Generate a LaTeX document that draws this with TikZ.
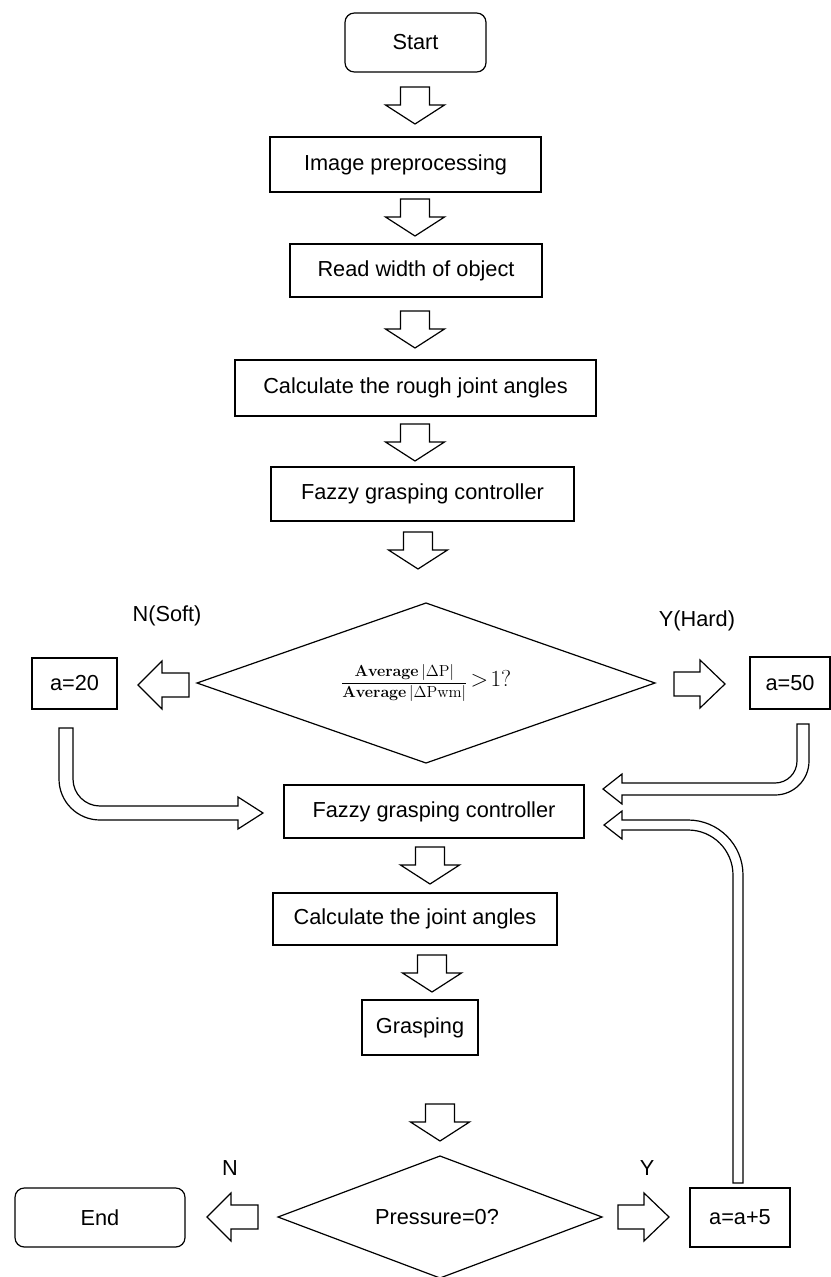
\documentclass[tikz,border=0pt]{standalone}
\usepackage{amsmath}
\usepackage[no-math]{fontspec}
\setmainfont{Liberation Sans}
\usetikzlibrary{calc}
\newcommand\blockdown[2]{\draw[blk] (#1-14.5,#2) -- (#1+14.5,#2) -- (#1+14.5,#2+18) -- (#1+29.5,#2+18) -- (#1,#2+37) -- (#1-29.5,#2+18) -- (#1-14.5,#2+18) -- cycle;}
\newcommand\blockleft[2]{\draw[blk] (#1,#2) -- (#1+24,#2-24) -- (#1+24,#2-12) -- (#1+51,#2-12) -- (#1+51,#2+12) -- (#1+24,#2+12) -- (#1+24,#2+24) -- cycle;}
\newcommand\blockright[2]{\draw[blk] (#1,#2-12) -- (#1+26,#2-12) -- (#1+26,#2-24) -- (#1+51,#2) -- (#1+26,#2+24) -- (#1+26,#2+12) -- (#1,#2+12) -- cycle;}
\begin{document}
\begin{tikzpicture}[x=0.75pt,y=-0.75pt,line width=0.9pt,
  box/.style={draw, inner sep=0pt, font=\fontsize{16.3}{19}\selectfont},
  term/.style={box, rounded corners=7pt},
  lbl/.style={font=\fontsize{16.3}{19}\selectfont, inner sep=0pt},
  blk/.style={draw, line width=0.9pt, line join=miter}]
\useasboundingbox (0,0) rectangle (831,1277);

% nodes
\node[term, minimum width={141*0.75pt}, minimum height={59*0.75pt}] (start) at (415.5,42.5) {Start};
\node[box, minimum width={271*0.75pt}, minimum height={55*0.75pt}] (img) at (405.5,164.5) {Image preprocessing};
\node[box, minimum width={252*0.75pt}, minimum height={53*0.75pt}] (read) at (416,270.5) {Read width of object};
\node[box, minimum width={361*0.75pt}, minimum height={56*0.75pt}] (rough) at (415.5,388) {Calculate the rough joint angles};
\node[box, minimum width={303*0.75pt}, minimum height={54*0.75pt}] (fz1) at (422.5,494) {Fazzy grasping controller};

\draw (197,683) coordinate (d1w) -- (426,603) coordinate (d1n) -- (655,683) coordinate (d1e) -- (426,763) coordinate (d1s) -- cycle;
\node[inner sep=0pt] (d1) at (426,683) {\fontsize{12.8}{15}\selectfont$\dfrac{\mathbf{Average}\,|\Delta\mathrm{P}|}{\mathbf{Average}\,|\Delta\mathrm{Pwm}|}$\,{\fontsize{17}{19}\selectfont$>\!1?$}};

\node[box, minimum width={85*0.75pt}, minimum height={51*0.75pt}] (a20) at (74.5,683.5) {a=20};
\node[box, minimum width={80*0.75pt}, minimum height={52*0.75pt}] (a50) at (790,683) {a=50};
\node[lbl] (nsoft) at (167,616) {N(Soft)};
\node[lbl] (yhard) at (697,621) {Y(Hard)};

\node[box, minimum width={300*0.75pt}, minimum height={53*0.75pt}] (fz2) at (434,811.5) {Fazzy grasping controller};
\node[box, minimum width={284*0.75pt}, minimum height={52*0.75pt}] (joint) at (415,919) {Calculate the joint angles};
\node[box, minimum width={116*0.75pt}, minimum height={55*0.75pt}] (grasp) at (420,1027.5) {Grasping};

\draw (278,1217) coordinate (d2w) -- (440,1156) coordinate (d2n) -- (602,1217) coordinate (d2e) -- (440,1278) coordinate (d2s) -- cycle;
\node[lbl] (d2) at (437,1217) {Pressure=0?};
\node[term, minimum width={170*0.75pt}, minimum height={59*0.75pt}] (end) at (100,1217.5) {End};
\node[box, minimum width={100*0.75pt}, minimum height={59*0.75pt}] (a5) at (740,1217.5) {a=a+5};
\node[lbl] (nlab) at (230,1168) {N};
\node[lbl] (ylab) at (647,1168) {Y};

% vertical block arrows
\blockdown{415}{87}
\blockdown{415}{199}
\blockdown{415}{311}
\blockdown{415}{424}
\blockdown{418}{532}
\blockdown{430}{847}
\blockdown{432}{955}
\blockdown{440}{1104}

% horizontal block arrows
\blockleft{138}{685}
\blockright{674}{684}
\blockleft{207}{1217}
\blockright{618}{1217}

% curved block arrows
\draw[blk] (59,728) -- (73,728) -- (73,779) arc[start angle=180, end angle=90, radius=27]
  -- (238,806) -- (238,797) -- (263,813) -- (238,829) -- (238,820) -- (100,820)
  arc[start angle=90, end angle=180, radius=41] -- cycle;
\draw[blk] (797,724) -- (797,761) arc[start angle=0, end angle=90, radius=22]
  -- (622,783) -- (622,774) -- (603,789) -- (622,804) -- (622,795) -- (775,795)
  arc[start angle=90, end angle=0, radius=34] -- (809,724) -- cycle;
\draw[blk] (733,1183) -- (733,875) arc[start angle=0, end angle=-90, radius=45]
  -- (622,830) -- (622,839) -- (604,825) -- (622,811) -- (622,820) -- (688,820)
  arc[start angle=-90, end angle=0, radius=55] -- (743,1183) -- cycle;
\end{tikzpicture}
\end{document}
